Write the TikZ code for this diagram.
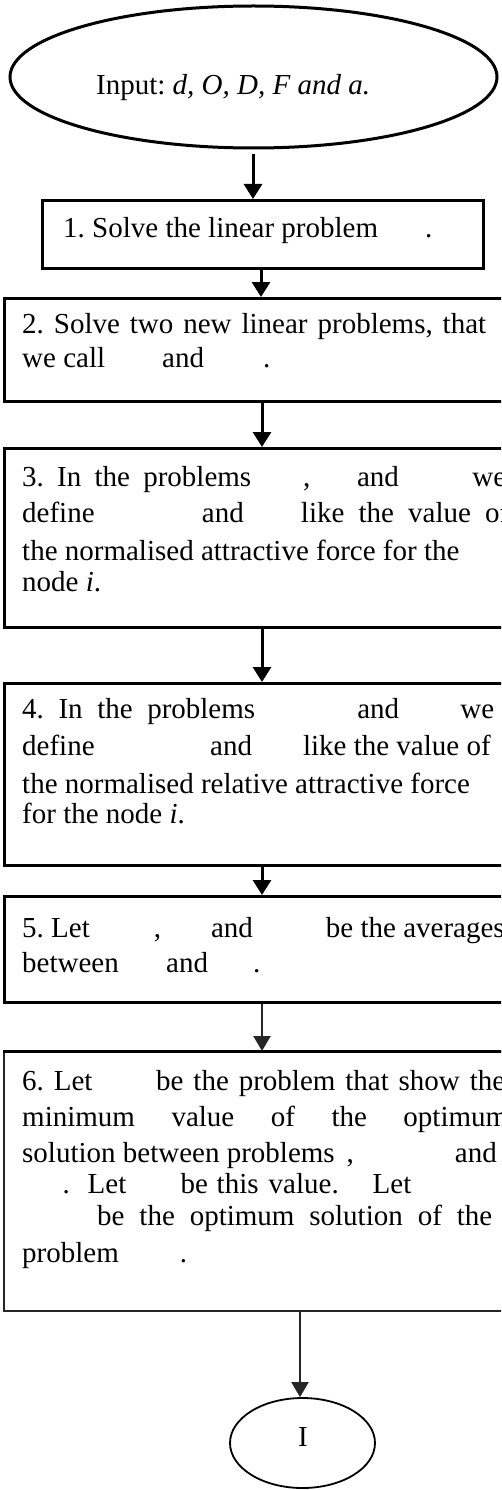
\documentclass[tikz,border=0pt]{standalone}
\usepackage{fontspec}
\setmainfont{Liberation Serif}
\usetikzlibrary{shapes.geometric,arrows.meta}
\newcommand\jl[2]{\makebox[#1pt][s]{#2}}
\newcommand\pw[2]{\makebox[0pt][l]{\hspace*{#1pt}#2}}
\begin{document}
\frenchspacing
\begin{tikzpicture}[x=1pt,y=-1pt,
  box/.style={draw, line width=3pt, rectangle, inner sep=0pt, anchor=north west},
  thinbox/.style={box, line width=2.2pt, draw=black!85},
  oval/.style={draw, ellipse, inner sep=0pt},
  txt/.style={anchor=base west, inner sep=0pt, font=\fontsize{29}{35}\selectfont},
  arr/.style={line width=3pt, -{Triangle[length=15pt,width=18pt]}},
  thinarr/.style={line width=2.2pt, draw=black!85, -{Triangle[length=15pt,width=17pt]}}]
\useasboundingbox (0,0) rectangle (501,1490);
\clip (0,0) rectangle (501,1490);
\fill[white] (0,0) rectangle (501,1490);

% shapes
\node[oval, line width=3pt, minimum width=487pt, minimum height=142pt] (e1) at (253.5,77) {};
\node[box, minimum width=441pt, minimum height=68pt] (b1) at (41,199) {};
\node[box, minimum width=517pt, minimum height=103pt] (b2) at (3,297) {};
\node[box, minimum width=517pt, minimum height=179pt] (b3) at (3,447) {};
\node[box, minimum width=517pt, minimum height=182pt] (b4) at (3,682) {};
\node[box, minimum width=517pt, minimum height=106pt] (b5) at (3,895) {};
\node[thinbox, minimum width=517pt, minimum height=259pt] (b6) at (3,1051) {};
\draw[line width=3pt] (b6.north west) -- (b6.north east);
\node[oval, line width=1.8pt, minimum width=145pt, minimum height=90pt] (e2) at (302.5,1443) {};

% texts
\node[txt] (tin) at (96,95) {Input: \textit{d, O, D, F and a.}};
\node[txt] (t1) at (63,237) {1. Solve the linear problem\hspace{47pt}.};

\node[txt] (t2a) at (22,333) {\jl{464}{2. Solve two new linear problems, that}};
\node[txt] (t2b) at (22,367) {we call\hspace{57pt}and\hspace{59pt}.};

\node[txt] (t3a) at (22,486) {\jl{484}{3. In the problems\hspace{52pt}, \hspace{20pt} and \hspace{47pt} we}};
\node[txt] (t3b) at (22,522) {\jl{487}{define \hspace{79pt} and \hspace{29pt} like the value of}};
\node[txt] (t3c) at (22,560) {the normalised attractive force for the};
\node[txt] (t3d) at (22,591) {node \textit{i}.};

\node[txt] (t4a) at (22,718) {\jl{472}{4. In the problems \hspace{73pt} and \hspace{32pt} we}};
\node[txt] (t4b) at (22,755) {define\hspace{115.5pt}and\hspace{51pt}like the value of};
\node[txt] (t4c) at (22,793) {the normalised relative attractive force};
\node[txt] (t4d) at (22,823) {for the node \textit{i}.};

\node[txt] (t5a) at (22,937) {5. Let\hspace{64pt},\hspace{50pt}and\hspace{73pt}be the averages};
\node[txt] (t5b) at (22,972) {between\hspace{47.4pt}and\hspace{45pt}.};

\node[txt] (t6a) at (22,1090) {\jl{483}{6. Let \hspace{44pt} be the problem that show the}};
\node[txt] (t6b) at (22,1126) {\jl{486}{minimum value of the optimum}};
\node[txt] (t6c) at (22,1162) {solution between problems\hspace{12pt},\hspace{101pt}and};
\node[txt] (t6d) at (62,1193) {\pw{0}{.}\pw{25}{Let}\pw{118}{be}\pw{154}{this}\pw{206}{value.}\pw{310}{Let}};
\node[txt] (t6e) at (97,1225) {\jl{395}{be the optimum solution of the}};
\node[txt] (t6f) at (22,1262) {problem\hspace{61pt}.};

\node[txt, anchor=base] (tI) at (303,1446) {I};

% connector x positions
\coordinate (a1) at (253,0);
\coordinate (a2) at (261,0);
\coordinate (a3) at (262,0);
\coordinate (a7) at (300,0);

\draw[arr, shorten <=5pt] (e1.south -| a1) -- (b1.north -| a1);
\draw[arr] (b1.south -| a2) -- (b2.north -| a2);
\draw[arr] (b2.south -| a3) -- (b3.north -| a3);
\draw[arr] (b3.south -| a3) -- (b4.north -| a3);
\draw[arr] (b4.south -| a3) -- (b5.north -| a3);
\draw[thinarr] (b5.south -| a3) -- (b6.north -| a3);
\draw[thinarr] (b6.south -| a7) -- (e2.north -| a7);
\end{tikzpicture}
\end{document}
